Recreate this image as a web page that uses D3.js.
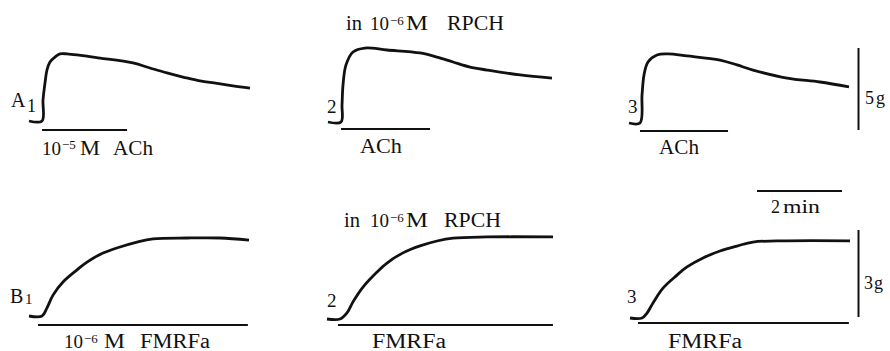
<!DOCTYPE html>
<html>
<head>
<meta charset="utf-8">
<script src="https://cdn.jsdelivr.net/npm/d3@7"></script>
<style>
  body { margin: 0; background: #fff; }
  svg { display: block; }
  text { font-family: "Liberation Serif", "Times New Roman", serif; fill: #111; }
</style>
</head>
<body>
<svg id="fig" width="890" height="351"></svg>
<script>
// time in s from start of trace, tension in g above resting level
// row A : ACh responses
const a1Time = [0, 18.4, 19.8, 22.6, 25.4, 29.6, 36.7, 43.8, 53.6, 100.2, 146.8, 170.8, 194.8, 217.4, 241.4, 265.4, 288, 312];
const a1Tension = [0, 0, 1.28, 2.32, 3.11, 3.6, 3.9, 4.09, 4.09, 3.84, 3.54, 3.23, 2.93, 2.68, 2.44, 2.3, 2.14, 2.0];
const a2Time = [0, 18.4, 19.8, 21.2, 25.4, 35.3, 52.2, 83.3, 129.9, 153.9, 176.5, 200.5, 224.5, 271.1, 316.2];
const a2Tension = [0, 0, 1.04, 2.26, 3.48, 4.27, 4.51, 4.39, 4.21, 3.96, 3.66, 3.35, 3.17, 2.87, 2.68];
const a3Time = [0, 15.5, 18.4, 21.2, 26.8, 39.5, 55.1, 81.9, 128.5, 152.5, 175.1, 223.1, 269.6, 310.6];
const a3Tension = [0, 0, 1.71, 2.93, 3.72, 4.15, 4.21, 4.09, 3.84, 3.54, 3.23, 2.74, 2.5, 2.2];
// row B : FMRFa responses
const b1Time = [0, 18.4, 25.4, 33.9, 48, 67.8, 81.9, 104.5, 128.5, 152.5, 175.1, 223.1, 269.6, 310.6];
const b1Tension = [0, 0, 0.28, 0.72, 1.17, 1.59, 1.86, 2.17, 2.38, 2.55, 2.66, 2.69, 2.69, 2.62];
const b2Time = [0, 18.4, 28.2, 36.7, 50.8, 70.6, 84.7, 107.3, 131.3, 155.3, 177.9, 225.9, 319.1];
const b2Tension = [0, 0, 0.21, 0.59, 1.1, 1.62, 1.93, 2.28, 2.52, 2.69, 2.79, 2.83, 2.83];
const b3Time = [0, 16.9, 24, 32.5, 46.6, 66.4, 80.5, 103.1, 127.1, 151.1, 173.6, 221.6, 310.6];
const b3Tension = [0, 0, 0.17, 0.52, 1.03, 1.48, 1.76, 2.07, 2.31, 2.48, 2.62, 2.66, 2.66];

// drug application windows (s)
const achOn = [18.4, 18.4, 15.5];
const achOff = [138.4, 144, 139.8];
const fmrfaOn = [12.7, 15.5, 11.3];
const fmrfaOff = [309, 319, 309];

// calibration
const timeBar = 120;   // 2 min
const forceBarA = 5;   // g
const forceBarB = 3;   // g

const svg = d3.select("#fig");
const pxPerUnit = 85 / 120;   // 2 min = 85 px

// panel placement (trace start x, resting level y, gap to drug bar)
const rows = [
  { gain: 82 / forceBarA, on: achOn, off: achOff,
    traces: [[a1Time, a1Tension], [a2Time, a2Tension], [a3Time, a3Tension]],
    pos: [{ x: 29, y: 121, dy: 9 }, { x: 328, y: 122, dy: 7 }, { x: 629, y: 123, dy: 8 }] },
  { gain: 87 / forceBarB, on: fmrfaOn, off: fmrfaOff,
    traces: [[b1Time, b1Tension], [b2Time, b2Tension], [b3Time, b3Tension]],
    pos: [{ x: 29, y: 316, dy: 9 }, { x: 327, y: 319, dy: 6 }, { x: 630, y: 318, dy: 5 }] }
];

rows.forEach(row => {
  row.traces.forEach(([time, tension], i) => {
    const p = row.pos[i];
    const x = d3.scaleLinear().domain([0, timeBar]).range([p.x, p.x + timeBar * pxPerUnit]);
    const y = d3.scaleLinear().domain([0, 1]).range([p.y, p.y - row.gain]);
    const line = d3.line()
      .x(d => x(d[0]))
      .y(d => y(d[1]))
      .curve(d3.curveCatmullRom.alpha(0.5));
    svg.append("path")
      .datum(time.map((t, k) => [t, tension[k]]))
      .attr("d", line)
      .attr("fill", "none")
      .attr("stroke", "#111")
      .attr("stroke-width", 2.8)
      .attr("stroke-linejoin", "round");
    // drug bar
    svg.append("line")
      .attr("x1", x(row.on[i])).attr("x2", x(row.off[i]))
      .attr("y1", p.y + p.dy).attr("y2", p.y + p.dy)
      .attr("stroke", "#111").attr("stroke-width", 2);
  });
});

// calibration bars
const tScale = d3.scaleLinear().domain([0, timeBar]).range([757, 757 + timeBar * pxPerUnit]);
svg.append("line")
  .attr("x1", tScale(0)).attr("x2", tScale(timeBar))
  .attr("y1", 191).attr("y2", 191)
  .attr("stroke", "#111").attr("stroke-width", 1.8);
const gA = d3.scaleLinear().domain([0, forceBarA]).range([130, 48]);
svg.append("line")
  .attr("x1", 858.5).attr("x2", 858.5)
  .attr("y1", gA(0)).attr("y2", gA(forceBarA))
  .attr("stroke", "#111").attr("stroke-width", 2);
const gB = d3.scaleLinear().domain([0, forceBarB]).range([317, 230]);
svg.append("line")
  .attr("x1", 858.5).attr("x2", 858.5)
  .attr("y1", gB(0)).attr("y2", gB(forceBarB))
  .attr("stroke", "#111").attr("stroke-width", 2);

// text
function word(x, y, s, size, len) {
  const t = svg.append("text")
    .attr("x", x).attr("y", y)
    .attr("font-size", size)
    .text(s);
  if (len) t.attr("textLength", len).attr("lengthAdjust", "spacingAndGlyphs");
  return t;
}

// panel ids
word(11, 107, "A", 20); word(27, 112, "1", 18);
word(327, 113, "2", 19); word(628, 113, "3", 19);
word(10, 303, "B", 20); word(25, 304, "1", 15);
word(327, 307, "2", 19); word(627, 303, "3", 19);

// in 10^-6 M RPCH (both rows)
[[30, 346, 447], [227, 344, 444]].forEach(([b, xi, xr]) => {
  word(xi, b, "in", 20, 16);
  word(370, b, "10", 19);
  word(390, b - 5, "\u22126", 13);
  word(406, b, "M", 20, 22);
  word(xr, b, "RPCH", 20, 57);
});

// drug labels
word(42, 155, "10", 19);
word(62, 149, "\u22125", 13);
word(80, 155, "M", 20, 20);
word(113, 155, "ACh", 20, 40);
word(360, 153, "ACh", 20, 42);
word(659, 154, "ACh", 20, 40);

word(64, 348, "10", 19);
word(84, 343, "\u22126", 13);
word(104, 348, "M", 20, 21);
word(140, 348, "FMRFa", 20, 70);
word(372, 348, "FMRFa", 20, 74);
word(668, 348, "FMRFa", 20, 74);

// calibration labels
word(771, 213, "2", 18);
word(783, 213, "min", 18, 37);
word(865, 104, "5", 18);
word(876, 104, "g", 18);
word(864, 289, "3", 18);
word(874, 289, "g", 18);
</script>
</body>
</html>
